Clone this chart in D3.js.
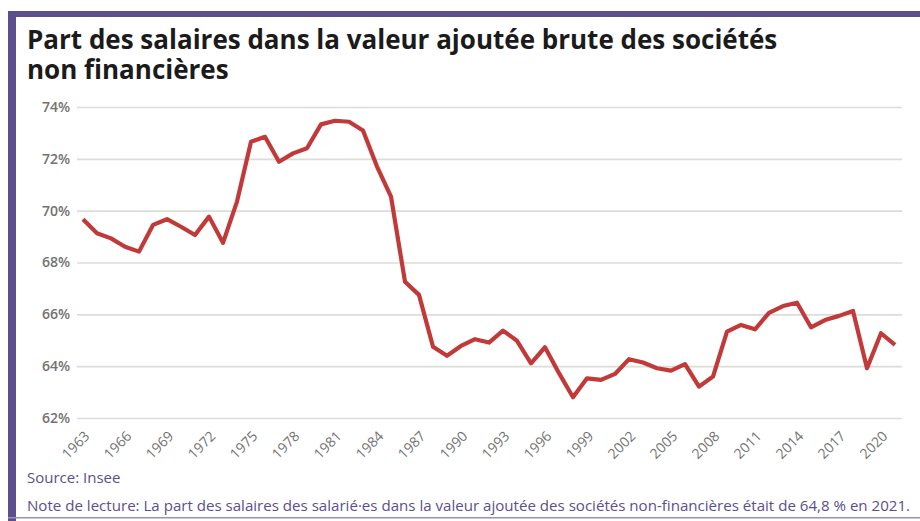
<!DOCTYPE html>
<html>
<head>
<meta charset="utf-8">
<script src="https://cdn.jsdelivr.net/npm/d3@7"></script>
<style>
  body { margin: 0; background: #fff; }
  svg { display: block; font-family: "Open Sans", "Noto Sans", sans-serif; }
</style>
</head>
<body>
<div id="chart"></div>
<script>
// Data
var years = [1963, 1964, 1965, 1966, 1967, 1968, 1969, 1970, 1971, 1972,
  1973, 1974, 1975, 1976, 1977, 1978, 1979, 1980, 1981, 1982,
  1983, 1984, 1985, 1986, 1987, 1988, 1989, 1990, 1991, 1992,
  1993, 1994, 1995, 1996, 1997, 1998, 1999, 2000, 2001, 2002,
  2003, 2004, 2005, 2006, 2007, 2008, 2009, 2010, 2011, 2012,
  2013, 2014, 2015, 2016, 2017, 2018, 2019, 2020, 2021];

var partSalaires = [69.67, 69.13, 68.93, 68.61, 68.42, 69.45, 69.67, 69.38, 69.06, 69.77,
  68.76, 70.35, 72.66, 72.85, 71.89, 72.21, 72.41, 73.33, 73.47, 73.43,
  73.09, 71.70, 70.54, 67.26, 66.75, 64.75, 64.40, 64.78, 65.04, 64.91,
  65.37, 64.98, 64.11, 64.73, 63.73, 62.80, 63.53, 63.47, 63.70, 64.27,
  64.14, 63.92, 63.83, 64.08, 63.21, 63.60, 65.33, 65.59, 65.42, 66.06,
  66.32, 66.45, 65.50, 65.78, 65.94, 66.13, 63.92, 65.27, 64.82];

var xTickYears = [1963, 1966, 1969, 1972, 1975, 1978, 1981, 1984, 1987, 1990,
  1993, 1996, 1999, 2002, 2005, 2008, 2011, 2014, 2017, 2020];

var yTicks = [62, 64, 66, 68, 70, 72, 74];

var titleLines = ["Part des salaires dans la valeur ajoutée brute des sociétés",
  "non financières"];
var sourceText = "Source: Insee";
var noteText = "Note de lecture: La part des salaires des salarié·es dans la valeur ajoutée des sociétés non-financières était de 64,8 % en 2021.";

// Chart set up
var svgWidth = 920;
var svgHeight = 521;
var purple = "#5b4f8c";

var svg = d3.select("#chart")
  .append("svg")
  .attr("width", svgWidth)
  .attr("height", svgHeight);

// frame
svg.append("rect").attr("x", 8).attr("y", 11).attr("width", 912).attr("height", 6).attr("fill", purple);
svg.append("rect").attr("x", 8).attr("y", 11).attr("width", 8).attr("height", 510).attr("fill", purple);
svg.append("rect").attr("x", 8).attr("y", 517).attr("width", 912).attr("height", 1.5).attr("fill", "#9a90c0");

// title (one text, wrapped on two lines)
var title = svg.append("text")
  .attr("class", "title")
  .attr("x", 27)
  .attr("y", 49)
  .attr("font-size", "26px")
  .attr("font-weight", "bold")
  .attr("fill", "#1b1b1b");

title.selectAll("tspan")
  .data(titleLines)
  .enter()
  .append("tspan")
  .attr("x", 27)
  .attr("dy", (d, i) => i === 0 ? 0 : 30)
  .text(d => d);

// scales
var xScale = d3.scalePoint()
  .domain(years)
  .range([83, 895]);

var yScale = d3.scaleLinear()
  .domain([62, 74])
  .range([418, 107]);

// grid + y labels
var yAxis = d3.axisLeft(yScale)
  .tickValues(yTicks)
  .tickSize(-(902 - 77))
  .tickPadding(7)
  .tickFormat(d => d + "%");

var yg = svg.append("g")
  .attr("transform", "translate(77,0)")
  .call(yAxis);

yg.select(".domain").remove();
yg.selectAll(".tick line")
  .attr("stroke", "#dcdcd8")
  .attr("stroke-width", 1.6);
yg.selectAll(".tick text")
  .attr("font-family", "'Open Sans', sans-serif")
  .attr("font-size", "14px")
  .attr("font-weight", 600)
  .attr("fill", "#727272");

// x labels
var xAxis = d3.axisBottom(xScale)
  .tickValues(xTickYears)
  .tickSize(0)
  .tickPadding(0);

var xg = svg.append("g")
  .attr("transform", "translate(0,422)")
  .call(xAxis);

xg.select(".domain").remove();
xg.selectAll(".tick text")
  .attr("font-family", "'Open Sans', sans-serif")
  .attr("font-size", "14px")
  .attr("fill", "#727272")
  .attr("text-anchor", "end")
  .attr("dy", "0")
  .attr("transform", "translate(7,15) rotate(-45)");

// line
var line = d3.line()
  .x((d, i) => xScale(years[i]))
  .y(d => yScale(d));

svg.append("path")
  .datum(partSalaires)
  .attr("fill", "none")
  .attr("stroke", "#c2393a")
  .attr("stroke-width", 4.2)
  .attr("stroke-linejoin", "round")
  .attr("d", line);

// source + note
svg.append("text")
  .attr("x", 27)
  .attr("y", 483)
  .attr("font-size", "15px")
  .attr("fill", purple)
  .text(sourceText);

svg.append("text")
  .attr("x", 27)
  .attr("y", 511)
  .attr("font-size", "15px")
  .attr("fill", purple)
  .attr("textLength", 883)
  .attr("lengthAdjust", "spacingAndGlyphs")
  .text(noteText);
</script>
</body>
</html>
